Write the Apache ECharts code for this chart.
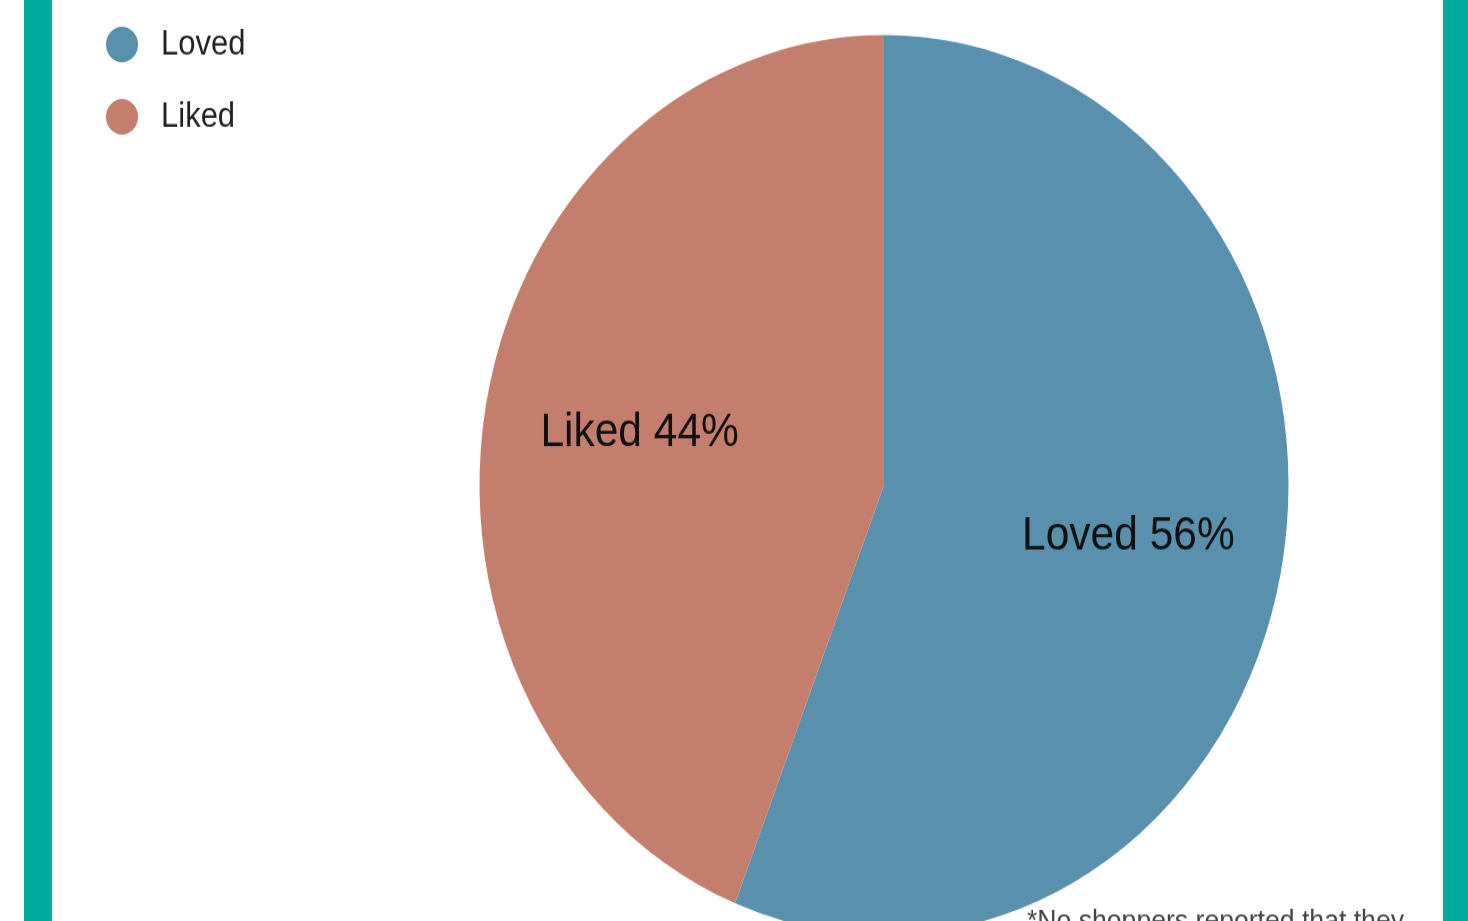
<!DOCTYPE html>
<html>
<head>
<meta charset="utf-8">
<script src="https://cdn.jsdelivr.net/npm/echarts@6/dist/echarts.min.js"></script>
<style>
  html, body { margin: 0; padding: 0; background: #ffffff; overflow: hidden; }
  #wrap { width: 1468px; height: 921px; overflow: hidden; position: relative; }
  /* chart is drawn at a flatter height and stretched vertically */
  #chart { width: 1468px; height: 828px; transform: scaleY(1.1123); transform-origin: 0 0; }
</style>
</head>
<body>
<div id="wrap"><div id="chart"></div></div>
<script>
// Shopper sentiment shares (percent)
const categories = ['Loved', 'Liked'];
const shares = [56, 44];
const sliceColors = ['#5890ad', '#c47e6e'];
const footnote = '*No shoppers reported that they';

const FONT = '"Liberation Sans", Arial, Helvetica, sans-serif';
const CENTER = [884, 436];
const RADIUS = 404.5;
const LABEL_RATIO = 0.615; // labels sit at this fraction of the radius

const total = shares.reduce((a, b) => a + b, 0);
// mid-angle of each slice, clockwise from 12 o'clock
const midAngles = [];
let acc = 0;
shares.forEach(v => {
  midAngles.push((acc + v / 2) / total * 2 * Math.PI);
  acc += v;
});

const chart = echarts.init(document.getElementById('chart'), null, { renderer: 'canvas' });

chart.setOption({
  backgroundColor: '#ffffff',
  animation: false,
  color: sliceColors,
  legend: {
    orient: 'vertical',
    left: 106,
    top: 24,
    padding: 0,
    icon: 'circle',
    itemWidth: 32,
    itemHeight: 32,
    itemGap: 33,
    selectedMode: false,
    textStyle: {
      fontFamily: FONT,
      fontSize: 31,
      lineHeight: 32,
      color: '#222222',
      padding: [0, 0, 0, 18]
    },
    data: categories
  },
  graphic: [
    { type: 'rect', left: 24, top: 0, shape: { width: 28, height: 828 }, style: { fill: '#00a99d' }, z: 10 },
    { type: 'rect', left: 1443, top: 0, shape: { width: 25, height: 828 }, style: { fill: '#00a99d' }, z: 10 },
    {
      type: 'text', left: 1027, top: 815, z: 10,
      style: { text: footnote, fontFamily: FONT, fontSize: 26.6, fill: '#444444' }
    }
  ],
  series: [{
    type: 'pie',
    center: CENTER,
    radius: RADIUS,
    startAngle: 90,
    clockwise: true,
    avoidLabelOverlap: false,
    itemStyle: { borderWidth: 0 },
    emphasis: { disabled: true },
    label: {
      show: true,
      position: 'inside',
      formatter: p => p.name + ' ' + p.value + '%',
      fontFamily: FONT,
      fontSize: 42.5,
      color: '#111111'
    },
    labelLine: { show: false },
    labelLayout: function (params) {
      const a = midAngles[params.dataIndex];
      return {
        x: CENTER[0] + Math.sin(a) * RADIUS * LABEL_RATIO,
        y: CENTER[1] - Math.cos(a) * RADIUS * LABEL_RATIO,
        align: 'center',
        verticalAlign: 'middle'
      };
    },
    data: categories.map((c, i) => ({ name: c, value: shares[i] }))
  }]
});
</script>
</body>
</html>
